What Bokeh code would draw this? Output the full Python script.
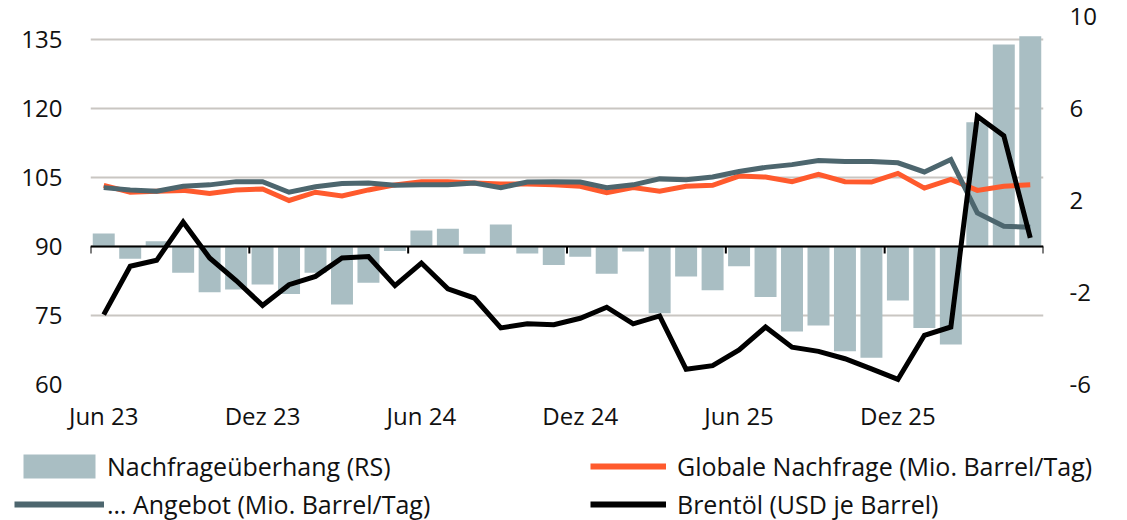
from bokeh.plotting import figure
from bokeh.models import (Range1d, LinearAxis, FixedTicker, Span, Legend,
                          LegendItem)
from bokeh.embed import file_html
from bokeh.resources import INLINE

# ---------------- data ----------------
months = ["Jun 23", "Jul 23", "Aug 23", "Sep 23", "Okt 23", "Nov 23",
          "Dez 23", "Jan 24", "Feb 24", "Mär 24", "Apr 24", "Mai 24",
          "Jun 24", "Jul 24", "Aug 24", "Sep 24", "Okt 24", "Nov 24",
          "Dez 24", "Jan 25", "Feb 25", "Mär 25", "Apr 25", "Mai 25",
          "Jun 25", "Jul 25", "Aug 25", "Sep 25", "Okt 25", "Nov 25",
          "Dez 25", "Jan 26", "Feb 26", "Mär 26", "Apr 26", "Mai 26"]

nachfrageueberhang = [0.57, -0.53, 0.23, -1.14, -1.99, -1.87, -1.65, -2.06,
                      -1.14, -2.52, -1.58, -0.20, 0.70, 0.77, -0.32, 0.96,
                      -0.30, -0.80, -0.45, -1.19, -0.22, -2.90, -1.30, -1.90,
                      -0.86, -2.20, -3.70, -3.43, -4.55, -4.84, -2.35, -3.54,
                      -4.26, 5.40, 8.78, 9.14]

nachfrage = [103.3, 101.8, 102.0, 102.2, 101.5, 102.3, 102.5, 100.0, 101.8,
             101.0, 102.3, 103.4, 104.1, 104.1, 103.8, 103.6, 103.6, 103.4,
             103.1, 101.7, 102.8, 102.0, 103.1, 103.3, 105.3, 105.1, 104.1,
             105.7, 104.1, 104.0, 105.9, 102.7, 104.6, 102.2, 103.1, 103.4]

angebot = [102.8, 102.3, 102.0, 103.1, 103.4, 104.1, 104.1, 101.8, 103.0,
           103.7, 103.8, 103.3, 103.4, 103.4, 103.8, 102.8, 104.0, 104.1,
           104.0, 102.8, 103.4, 104.7, 104.5, 105.1, 106.3, 107.2, 107.8,
           108.7, 108.5, 108.5, 108.2, 106.2, 108.9, 97.3, 94.4, 94.2]

brent = [75.2, 85.7, 87.0, 95.3, 87.5, 82.6, 77.2, 81.7, 83.5, 87.5, 87.8,
         81.5, 86.4, 80.8, 78.8, 72.3, 73.2, 73.0, 74.4, 76.8, 73.2, 74.9,
         63.3, 64.1, 67.5, 72.5, 68.1, 67.2, 65.6, 63.4, 61.1, 70.7, 72.5,
         118.3, 114.1, 91.9]

left_ticks = [60, 75, 90, 105, 120, 135]
right_ticks = [-6, -2, 2, 6, 10]
label_months = ("Jun", "Dez")

labels = {
    "bars": "Nachfrageüberhang (RS)",
    "nachfrage": "Globale Nachfrage (Mio. Barrel/Tag)",
    "angebot": "… Angebot (Mio. Barrel/Tag)",
    "brent": "Brentöl (USD je Barrel)",
}

# ---------------- styling ----------------
FONT = "Open Sans"
FS = "24px"
FS_LEG = "25px"
TXT = "#111111"
C_BAR = "#a9bec3"
C_NACH = "#ff5a2d"
C_ANG = "#4d666e"
C_BRENT = "#000000"
C_GRID = "#c9c6c2"
LW = 5

n = len(months)
xs = list(range(n))
tick_idx = [i for i, m in enumerate(months) if m.startswith(label_months)]

p = figure(width=1127, height=440, output_backend="svg", toolbar_location=None,
           x_range=Range1d(-0.5, n - 0.5), y_range=Range1d(60, 140),
           min_border_left=90, min_border_right=84, min_border_top=16,
           min_border_bottom=56)
p.outline_line_color = None
p.extra_y_ranges = {"rs": Range1d(-6, 10)}

# grid
p.xgrid.visible = False
p.ygrid.ticker = FixedTicker(ticks=left_ticks)
p.ygrid.grid_line_color = C_GRID
p.ygrid.grid_line_width = 2

# x axis (labels only)
xa = p.xaxis[0]
xa.ticker = FixedTicker(ticks=tick_idx)
xa.major_label_overrides = {i: months[i] for i in tick_idx}
xa.axis_line_color = None
xa.major_tick_line_color = None
xa.minor_tick_line_color = None
xa.major_label_standoff = 8
xa.major_label_text_font = FONT
xa.major_label_text_font_size = FS
xa.major_label_text_color = TXT

# left axis
ya = p.yaxis[0]
ya.ticker = FixedTicker(ticks=left_ticks)
ya.axis_line_color = None
ya.major_tick_line_color = None
ya.minor_tick_line_color = None
ya.major_label_standoff = 22
ya.major_label_text_font = FONT
ya.major_label_text_font_size = FS
ya.major_label_text_color = TXT

# right axis
ra = LinearAxis(y_range_name="rs", ticker=FixedTicker(ticks=right_ticks))
ra.major_label_overrides = {t: str(t) for t in right_ticks}
ra.axis_line_color = None
ra.major_tick_line_color = None
ra.minor_tick_line_color = None
ra.major_label_standoff = 20
ra.major_label_text_font = FONT
ra.major_label_text_font_size = FS
ra.major_label_text_color = TXT
p.add_layout(ra, "right")

# bars
bar_kw = dict(width=0.83, fill_color=C_BAR, line_color=None)
p.vbar(x=xs, top=nachfrageueberhang, bottom=0, y_range_name="rs", **bar_kw)

# zero line with boundary ticks
zero = Span(location=0, dimension="width", y_range_name="rs",
            line_color="black", line_width=2)
p.add_layout(zero)
bounds = [i - 0.5 for i in tick_idx] + [n - 0.5]
p.segment(x0=bounds, y0=[0] * len(bounds), x1=bounds,
          y1=[-0.3] * len(bounds), y_range_name="rs",
          line_color="black", line_width=2)

# lines
p.line(xs, nachfrage, line_color=C_NACH, line_width=LW, line_join="miter")
p.line(xs, angebot, line_color=C_ANG, line_width=LW, line_join="miter")
p.line(xs, brent, line_color=C_BRENT, line_width=LW, line_join="miter")

# ---------------- legend strip ----------------
# same series drawn in a strip whose ranges lie outside the data,
# so only their legend swatches show
lg = figure(width=1127, height=80, output_backend="svg", toolbar_location=None,
            x_range=Range1d(-100, -99), y_range=Range1d(-100, -99),
            x_axis_type=None, y_axis_type=None, min_border=0)
lg.outline_line_color = None
lg.grid.visible = False
r_bar = lg.vbar(x=xs, top=nachfrageueberhang, bottom=0, **bar_kw)
r_nach = lg.line(xs, nachfrage, line_color=C_NACH, line_width=LW + 1)
r_ang = lg.line(xs, angebot, line_color=C_ANG, line_width=LW + 1)
r_brent = lg.line(xs, brent, line_color=C_BRENT, line_width=LW + 1)


def make_legend(items, loc, gw, standoff):
    leg = Legend(items=items, location=loc, orientation="vertical")
    leg.border_line_color = None
    leg.background_fill_alpha = 0
    leg.padding = 0
    leg.margin = 0
    leg.spacing = 4
    leg.glyph_width = gw
    leg.glyph_height = 30
    leg.label_height = 30
    leg.label_standoff = standoff
    leg.label_text_font = FONT
    leg.label_text_font_size = FS_LEG
    leg.label_text_color = TXT
    return leg


leg_a = make_legend([LegendItem(label=labels["bars"], renderers=[r_bar]),
                     LegendItem(label=labels["angebot"], renderers=[r_ang])],
                    (14, -1), 90, 3)
leg_b = make_legend([LegendItem(label=labels["nachfrage"], renderers=[r_nach]),
                     LegendItem(label=labels["brent"], renderers=[r_brent])],
                    (590, -1), 76, 11)
lg.add_layout(leg_a)
lg.add_layout(leg_b)

# two stacked roots (no frame alignment between them)
open("out.html", "w").write(file_html([p, lg], INLINE))
